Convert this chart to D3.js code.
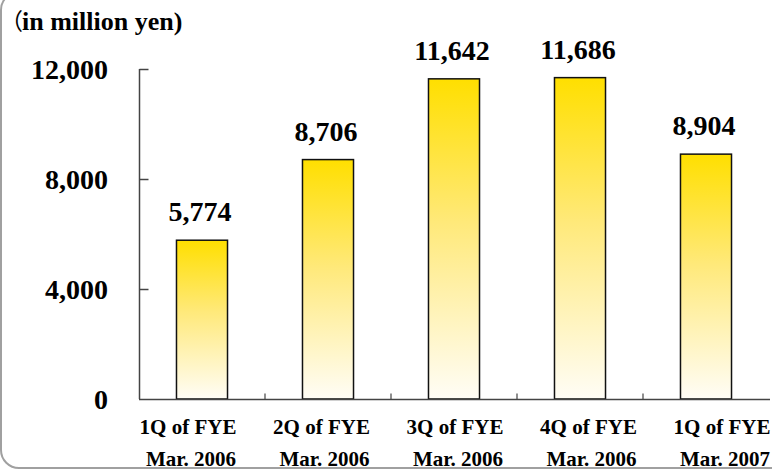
<!DOCTYPE html>
<html>
<head>
<meta charset="utf-8">
<script src="https://cdn.jsdelivr.net/npm/d3@7"></script>
<style>
  body { margin: 0; background: #fff; }
  svg { display: block; font-family: "Liberation Serif", "Times New Roman", serif; font-weight: bold; }
</style>
</head>
<body>
<svg id="chart" width="772" height="472"></svg>
<script>
// data
const quarters = ["1Q of FYE", "2Q of FYE", "3Q of FYE", "4Q of FYE", "1Q of FYE"];
const periods = ["Mar. 2006", "Mar. 2006", "Mar. 2006", "Mar. 2006", "Mar. 2007"];
const sales = [5774, 8706, 11642, 11686, 8904];
const yTicks = [0, 4000, 8000, 12000];
const unitOpen = "（";
const unitLabel = "in million yen)";

const svg = d3.select("#chart");
const keys = d3.range(sales.length);

const x = d3.scaleBand().domain(keys).range([139, 769]).paddingInner(0).paddingOuter(0);
const y = d3.scaleLinear().domain([0, 12000]).range([399, 69]);
// tick labels in the original sit a bit off the bar centres
const xLab = d3.scalePoint().domain(keys).range([188, 722]);

// gradient for the bars
const grad = svg.append("defs").append("linearGradient")
    .attr("id", "barGrad")
    .attr("x1", 0).attr("y1", 0).attr("x2", 0).attr("y2", 1);
grad.append("stop").attr("offset", "0%").attr("stop-color", "#ffdf00");
grad.append("stop").attr("offset", "45%").attr("stop-color", "#ffe97a");
grad.append("stop").attr("offset", "100%").attr("stop-color", "#fffdf6");

// rounded frame, runs off the top and right
svg.append("rect")
    .attr("x", 1).attr("y", -8)
    .attr("width", 800).attr("height", 476)
    .attr("rx", 18)
    .attr("fill", "none")
    .attr("stroke", "#a0a0a0")
    .attr("stroke-width", 2);

// unit caption (full-width opening paren, as in the original)
svg.append("text")
    .attr("x", 0).attr("y", 30)
    .attr("font-size", 23)
    .style("font-family", "'Noto Sans CJK JP', sans-serif")
    .style("font-weight", "normal")
    .text(unitOpen);
svg.append("text")
    .attr("x", 22).attr("y", 30)
    .attr("font-size", 26)
    .text(unitLabel);

// bars
const barW = x.bandwidth() * 0.405;
svg.selectAll("rect.bar")
    .data(sales)
    .enter().append("rect")
    .attr("class", "bar")
    .attr("x", (d, i) => x(i) + (x.bandwidth() - barW) / 2)
    .attr("y", d => y(d))
    .attr("width", barW)
    .attr("height", d => y(0) - y(d))
    .attr("fill", "url(#barGrad)")
    .attr("stroke", "#111")
    .attr("stroke-width", 1.5);

// value labels
svg.selectAll("text.val")
    .data(sales)
    .enter().append("text")
    .attr("class", "val")
    .attr("x", (d, i) => x(i) + x.bandwidth() / 2 - 2)
    .attr("y", d => y(d) - 19)
    .attr("text-anchor", "middle")
    .attr("font-size", 28)
    .text(d => d3.format(",")(d));

// y axis: line + inward ticks
const yAxis = svg.append("g").attr("transform", "translate(139.5,0)");
yAxis.append("line")
    .attr("y1", y(12000)).attr("y2", y(0))
    .attr("stroke", "#444").attr("stroke-width", 1.5);
yAxis.selectAll("line.tk")
    .data(yTicks.filter(d => d > 0))
    .enter().append("line")
    .attr("class", "tk")
    .attr("x1", 0).attr("x2", 9)
    .attr("y1", d => y(d) + 0.5).attr("y2", d => y(d) + 0.5)
    .attr("stroke", "#444").attr("stroke-width", 1.5);
svg.selectAll("text.ytk")
    .data(yTicks)
    .enter().append("text")
    .attr("class", "ytk")
    .attr("x", 108)
    .attr("y", d => y(d))
    .attr("dy", "0.34em")
    .attr("text-anchor", "end")
    .attr("font-size", 28)
    .text(d => d3.format(",")(d));

// x axis: line + upward ticks at category boundaries
const xAxis = svg.append("g").attr("transform", "translate(0,399.5)");
xAxis.append("line")
    .attr("x1", 139).attr("x2", 770)
    .attr("stroke", "#444").attr("stroke-width", 1.5);
xAxis.selectAll("line.tk")
    .data(keys.slice(1))
    .enter().append("line")
    .attr("class", "tk")
    .attr("x1", d => x(d)).attr("x2", d => x(d))
    .attr("y1", 0).attr("y2", -6)
    .attr("stroke", "#444").attr("stroke-width", 1.2);

// category labels, two lines
svg.selectAll("text.q")
    .data(quarters)
    .enter().append("text")
    .attr("class", "q")
    .attr("x", (d, i) => xLab(i))
    .attr("y", 434)
    .attr("text-anchor", "middle")
    .attr("font-size", 21)
    .text(d => d);
svg.selectAll("text.p")
    .data(periods)
    .enter().append("text")
    .attr("class", "p")
    .attr("x", (d, i) => xLab(i) + 3)
    .attr("y", 466)
    .attr("text-anchor", "middle")
    .attr("font-size", 21)
    .text(d => d);
</script>
</body>
</html>
